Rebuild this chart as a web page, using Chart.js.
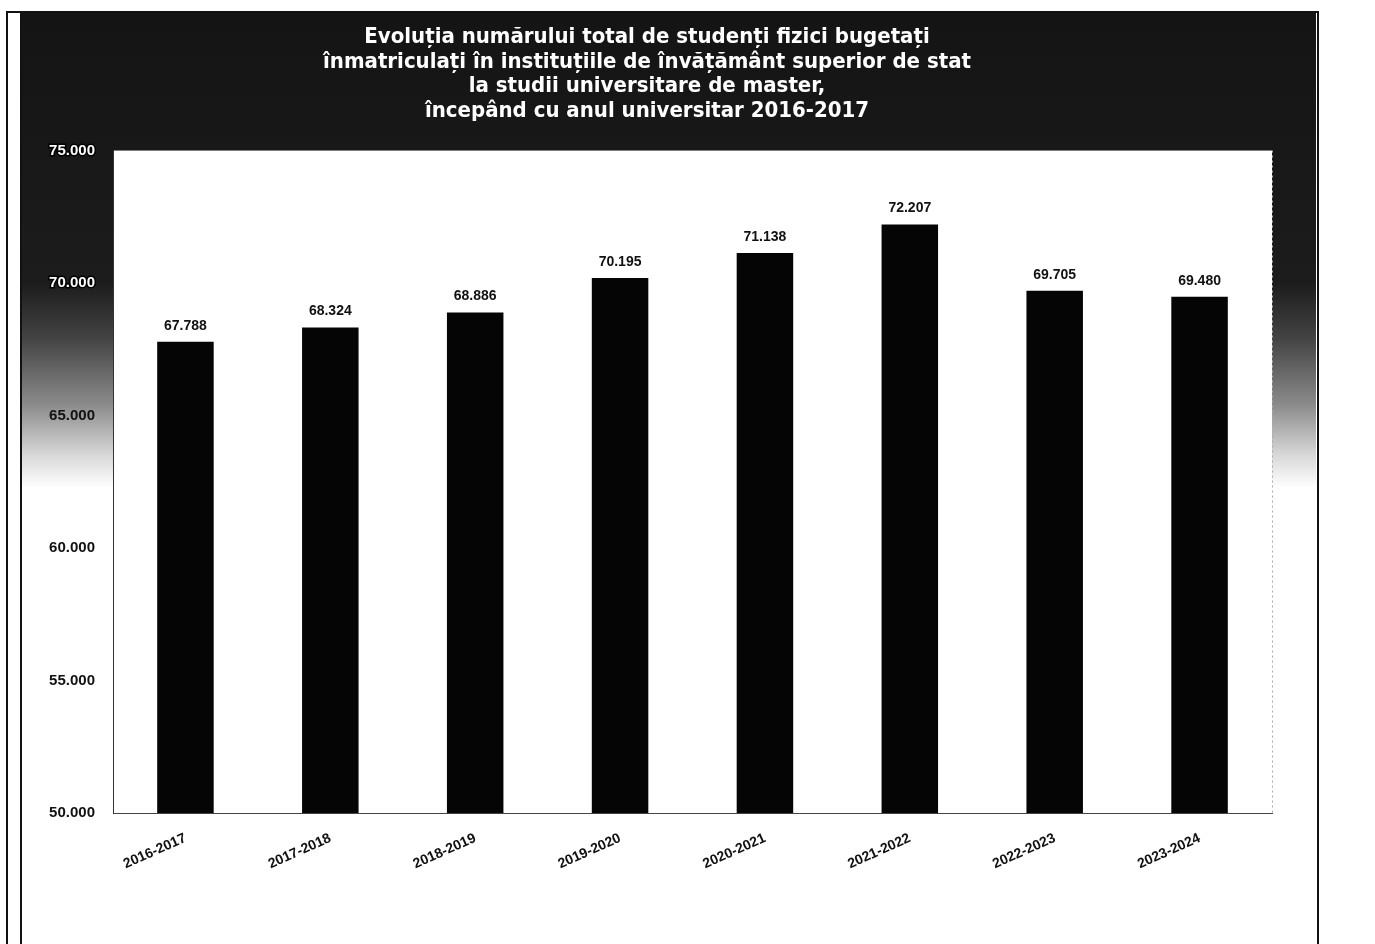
<!DOCTYPE html>
<html>
<head>
<meta charset="utf-8">
<script src="https://cdn.jsdelivr.net/npm/chart.js@4"></script>
<style>
  html, body { margin: 0; padding: 0; background: #fff; width: 1375px; height: 944px; overflow: hidden; }
  #frame { position: absolute; left: 6px; top: 11px; width: 1309px; height: 940px;
           border-left: 2px solid #111; border-top: 2px solid #111; border-right: 2px solid #111; }
  #wrap { position: absolute; left: 20px; top: 13px; width: 1296px; height: 931px;
          border-left: 2px solid #111; box-sizing: border-box; }
</style>
</head>
<body>
<div id="frame"></div>
<div id="wrap"><canvas id="c"></canvas></div>
<script>
const categories = ['2016-2017','2017-2018','2018-2019','2019-2020','2020-2021','2021-2022','2022-2023','2023-2024'];
const students = [67788, 68324, 68886, 70195, 71138, 72207, 69705, 69480];
const titleLines = [
  'Evoluția numărului total de studenți fizici bugetați',
  'înmatriculați în instituțiile de învățământ superior de stat',
  'la studii universitare de master,',
  'începând cu anul universitar 2016-2017'
];
const yMin = 50000, yMax = 75000, yStep = 5000;

function fmt(v) { return String(v).replace(/\B(?=(\d{3})+(?!\d))/g, '.'); }

const bgPlugin = {
  id: 'bg',
  beforeDraw(chart) {
    const { ctx, width, height, chartArea } = chart;
    const g = ctx.createLinearGradient(0, 0, 0, height);
    g.addColorStop(0, '#141414');
    g.addColorStop(0.29, '#1c1c1c');
    g.addColorStop(0.35, '#444');
    g.addColorStop(0.42, '#8a8a8a');
    g.addColorStop(0.475, '#d8d8d8');
    g.addColorStop(0.51, '#ffffff');
    g.addColorStop(1, '#ffffff');
    ctx.save();
    ctx.fillStyle = g;
    ctx.fillRect(0, 0, width, height);
    ctx.fillStyle = '#ffffff';
    ctx.fillRect(chartArea.left, chartArea.top, chartArea.right - chartArea.left, chartArea.bottom - chartArea.top);
    ctx.strokeStyle = '#aaa';
    ctx.setLineDash([2, 3]);
    ctx.lineWidth = 1;
    ctx.beginPath();
    ctx.moveTo(chartArea.right + 0.5, chartArea.top);
    ctx.lineTo(chartArea.right + 0.5, chartArea.bottom);
    ctx.stroke();
    ctx.restore();
  }
};

const valueLabels = {
  id: 'valueLabels',
  afterDatasetsDraw(chart) {
    const { ctx } = chart;
    const meta = chart.getDatasetMeta(0);
    ctx.save();
    ctx.font = 'bold 14px "Liberation Sans", Arial, sans-serif';
    ctx.fillStyle = '#111';
    ctx.textAlign = 'center';
    ctx.textBaseline = 'bottom';
    meta.data.forEach((bar, i) => {
      ctx.fillText(fmt(chart.data.datasets[0].data[i]), bar.x, bar.y - 9);
    });
    ctx.restore();
  }
};

new Chart(document.getElementById('c'), {
  type: 'bar',
  data: {
    labels: categories,
    datasets: [{
      data: students,
      backgroundColor: '#050505',
      borderWidth: 0,
      barPercentage: 0.39,
      categoryPercentage: 1.0
    }]
  },
  options: {
    responsive: true,
    maintainAspectRatio: false,
    animation: false,
    layout: { padding: { left: 0, right: 44, top: 0, bottom: 0 } },
    plugins: {
      legend: { display: false },
      tooltip: { enabled: false },
      title: {
        display: true,
        text: titleLines,
        color: '#ffffff',
        font: { family: '"Liberation Sans Narrow", "Arial Narrow", "DejaVu Sans Condensed", sans-serif', size: 22, weight: 'bold', lineHeight: 1.12 },
        padding: { top: 12, bottom: 27 }
      }
    },
    scales: {
      x: {
        grid: { display: false },
        border: { display: true, color: '#444', dash: [2, 2], width: 1 },
        ticks: {
          color: '#111',
          font: { family: '"Liberation Sans", Arial, sans-serif', size: 14, weight: 'bold' },
          minRotation: 24, maxRotation: 24,
          padding: 9
        },
        afterFit(s) { s.height = 131; }
      },
      y: {
        min: yMin, max: yMax,
        grid: { display: false },
        border: { display: true, color: '#333', width: 1 },
        ticks: {
          stepSize: yStep,
          padding: 10,
          font: { family: '"Liberation Sans", Arial, sans-serif', size: 15, weight: 'bold' },
          color: (c) => (c.tick && c.tick.value >= 70000) ? '#ffffff' : '#111',
          textStrokeColor: (c) => (c.tick && c.tick.value >= 70000) ? '#000' : '',
          textStrokeWidth: (c) => (c.tick && c.tick.value >= 70000) ? 3 : 0,
          callback: (v) => fmt(v)
        },
        afterFit(s) { s.width = 91; }
      }
    }
  },
  plugins: [bgPlugin, valueLabels]
});
</script>
</body>
</html>
